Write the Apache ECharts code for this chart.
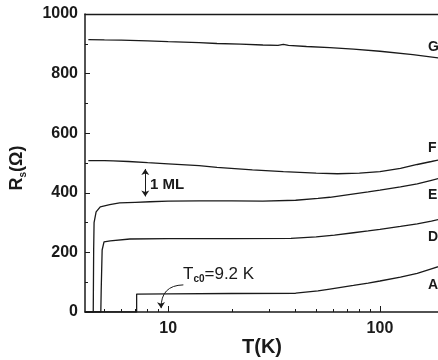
<!DOCTYPE html>
<html>
<head>
<meta charset="utf-8">
<script src="https://cdn.jsdelivr.net/npm/echarts@6.0.0/dist/echarts.min.js"></script>
<style>
html,body{margin:0;padding:0;background:#fff;}
#main{width:438px;height:360px;}
</style>
</head>
<body>
<div id="main"></div>
<script>
// temperature (K) and sheet resistance (ohm)
var tG = [4.2, 5, 6, 8, 10, 14, 17, 22, 28, 33, 35, 37, 45, 58, 75, 100, 143, 200];
var rG = [914, 913, 912, 910, 907, 904, 901, 899, 896, 895, 898, 895, 891, 887, 882, 875, 864, 850];

var tF = [4.2, 5, 5.5, 6.5, 8, 10, 14, 17, 25, 35, 50, 63, 80, 100, 125, 150, 175, 200];
var rF = [508, 508, 507, 505, 501, 497, 491, 485, 477, 471, 466, 464, 466, 471, 482, 495, 505, 514];

var tE = [4.05, 4.43, 4.45, 4.47, 4.57, 4.78, 5.3, 5.9, 7, 8.2, 10, 14, 20, 28, 40, 51, 58, 70, 88, 100, 125, 150, 175, 200];
var rE = [0, 0, 208, 300, 336, 353, 360, 366, 368, 370, 372, 373, 373, 372, 375, 381, 385, 393, 403, 409, 420, 430, 442, 452];

var tD = [4.05, 4.81, 4.83, 4.88, 4.98, 5.33, 6.6, 10, 20, 38, 50, 61, 75, 88, 100, 125, 150, 175, 200];
var rD = [0, 0, 74, 208, 235, 239, 245, 246, 246, 247, 252, 258, 266, 272, 277, 287, 296, 305, 314];

var tA = [4.05, 7.1, 7.1, 10, 20, 40, 51, 58, 75, 88, 100, 125, 150, 175, 200];
var rA = [0, 0, 60, 61, 62, 63, 71, 77, 89, 97, 104, 117, 130, 145, 158];

var curveNames = ['G', 'F', 'E', 'D', 'A'];

var xLabelTicks = [10, 100];
var xMinorTicks = [5, 6, 7, 8, 9, 20, 30, 40, 50, 60, 70, 80, 90];
// the plot is cut off at the right edge of the picture
var xMin = 4.05, xMax = 188;

// annotation arrows: [T, R] start -> end
var mlArrow = [[7.8, 480], [7.8, 388]];
var tcArrow = [[11.8, 91], [9.27, 13]];

function lg(v){ return Math.log10(v); }
function pairs(t, r){
  var o = [];
  for (var i = 0; i < t.length; i++) o.push([lg(t[i]), r[i]]);
  return o;
}

var font = '"Liberation Sans", Arial, sans-serif';
var ink = '#1a1a1a';

function curve(name, t, r){
  return {
    name: name, type: 'line', data: pairs(t, r),
    showSymbol: false, symbol: 'none', animation: false, clip: true,
    lineStyle: {color: ink, width: 1.3}
  };
}

var chart = echarts.init(document.getElementById('main'));
chart.setOption({
  animation: false,
  grid: {left: 85, top: 14, bottom: 48, right: 0},
  xAxis: [{
    type: 'value', min: lg(xMin), max: lg(xMax),
    splitLine: {show: false},
    axisLine: {show: true, onZero: false, lineStyle: {color: ink, width: 1.5}},
    axisTick: {show: true, inside: true, length: 6, customValues: xLabelTicks.map(lg), lineStyle: {color: ink}},
    axisLabel: {
      customValues: xLabelTicks.map(lg), margin: 9,
      color: ink, fontSize: 16, fontWeight: 'bold', fontFamily: font,
      formatter: function(v){ return String(Math.round(Math.pow(10, v))); }
    }
  }, {
    type: 'value', min: lg(xMin), max: lg(xMax), position: 'bottom',
    splitLine: {show: false},
    axisLine: {show: false},
    axisLabel: {show: false},
    axisTick: {show: true, inside: true, length: 3, customValues: xMinorTicks.map(lg), lineStyle: {color: ink}}
  }, {
    type: 'value', min: lg(xMin), max: lg(xMax), position: 'top',
    splitLine: {show: false},
    axisLine: {show: true, onZero: false, lineStyle: {color: ink, width: 1.3}},
    axisLabel: {show: false},
    axisTick: {show: false}
  }],
  yAxis: {
    type: 'value', min: 0, max: 1000, interval: 200,
    splitLine: {show: false},
    axisLine: {show: true, lineStyle: {color: ink, width: 1.5}},
    axisTick: {show: true, inside: true, length: 5, lineStyle: {color: ink}},
    minorTick: {show: true, splitNumber: 2, length: 3, lineStyle: {color: ink}},
    axisLabel: {
      margin: 7, color: ink, fontSize: 16, fontWeight: 'bold', fontFamily: font,
      formatter: function(v){ return String(v); }
    }
  },
  series: [
    curve('G', tG, rG),
    curve('F', tF, rF),
    curve('E', tE, rE),
    curve('D', tD, rD),
    curve('A', tA, rA),
    {
      type: 'lines', coordinateSystem: 'cartesian2d', animation: false,
      symbol: ['arrow', 'arrow'], symbolSize: 6,
      lineStyle: {color: ink, width: 1, opacity: 1},
      data: [{coords: mlArrow.map(function(p){ return [lg(p[0]), p[1]]; })}]
    },
    {
      type: 'lines', coordinateSystem: 'cartesian2d', animation: false,
      symbol: ['none', 'arrow'], symbolSize: 6,
      lineStyle: {color: ink, width: 1, opacity: 1, curveness: -0.5},
      data: [{coords: tcArrow.map(function(p){ return [lg(p[0]), p[1]]; })}]
    }
  ],
  graphic: [
    {type: 'text', x: 428, y: 47, style: {text: curveNames[0], fill: ink, font: 'bold 14px ' + font, verticalAlign: 'middle'}},
    {type: 'text', x: 428, y: 148, style: {text: curveNames[1], fill: ink, font: 'bold 14px ' + font, verticalAlign: 'middle'}},
    {type: 'text', x: 428, y: 195, style: {text: curveNames[2], fill: ink, font: 'bold 14px ' + font, verticalAlign: 'middle'}},
    {type: 'text', x: 428, y: 237, style: {text: curveNames[3], fill: ink, font: 'bold 14px ' + font, verticalAlign: 'middle'}},
    {type: 'text', x: 428, y: 285, style: {text: curveNames[4], fill: ink, font: 'bold 14px ' + font, verticalAlign: 'middle'}},
    {type: 'text', x: 150, y: 185, style: {text: '1 ML', fill: ink, font: 'bold 15px ' + font, verticalAlign: 'middle'}},
    {
      type: 'text', x: 183, y: 274,
      style: {
        text: '{t|T}{s|c0}{t|=9.2 K}', verticalAlign: 'middle', fill: ink,
        rich: {
          t: {fontSize: 17, fontFamily: font, lineHeight: 20, fill: ink},
          s: {fontSize: 10, fontWeight: 'bold', fontFamily: font, lineHeight: 10, verticalAlign: 'bottom', fill: ink}
        }
      }
    },
    {type: 'text', x: 262, y: 347, style: {text: 'T(K)', fill: ink, font: 'bold 20px ' + font, align: 'center', verticalAlign: 'middle'}},
    {
      type: 'text', x: 17, y: 168, rotation: Math.PI / 2,
      style: {
        text: '{r|R}{s|s}{r|(Ω)}', align: 'center', verticalAlign: 'middle', fill: ink,
        rich: {
          r: {fontSize: 18, fontWeight: 'bold', fontFamily: font, lineHeight: 22, fill: ink},
          s: {fontSize: 10, fontWeight: 'bold', fontFamily: font, lineHeight: 10, verticalAlign: 'bottom', fill: ink}
        }
      }
    }
  ]
});
</script>
</body>
</html>
